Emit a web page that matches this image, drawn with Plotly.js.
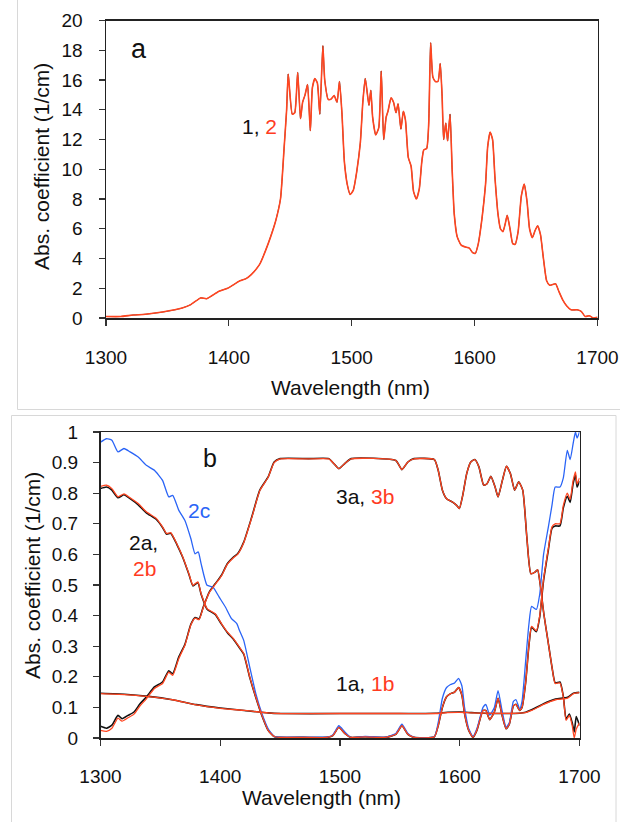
<!DOCTYPE html>
<html><head><meta charset="utf-8">
<script src="https://cdn.plot.ly/plotly-3.0.1.min.js"></script>
<style>html,body{margin:0;padding:0;background:#fff;}#chart{width:637px;height:822px;}</style>
</head><body><div id="chart"></div>
<script>
// ---------- Panel a ----------
const wlA = [1300,1312,1322,1332,1346,1356,1362,1369,1377,1382,1392,1399,1409,1414,1418,1425,1432,1438,1442,1445,1447,1448.3,1451.6,1453.6,1456,1458.3,1460,1462,1464,1466.3,1468,1470,1472,1474,1476.5,1478,1480.8,1483,1485.7,1488,1490,1492,1494,1496.3,1498.7,1501.3,1504,1507,1509,1511,1514,1515.5,1517,1519.5,1522,1524,1526,1528,1529.5,1532,1534,1536,1537.7,1540,1542,1543.7,1546,1548.3,1550.3,1552.6,1555,1557,1558.6,1561,1562.6,1564.2,1566,1568,1570.2,1572,1573.5,1574.8,1576.5,1578,1580,1581.7,1583.4,1585.7,1589,1593.3,1595.7,1598.3,1600.6,1603,1606,1608.9,1610.6,1612.6,1614.6,1616.5,1619,1621,1623,1624.8,1626.5,1628.8,1631,1633,1635.4,1638,1640.4,1642.7,1644.7,1647,1649.3,1651.3,1653.6,1656,1658.6,1661,1663.5,1665.9,1668.5,1671.8,1675,1678.4,1683.4,1686.7,1690,1693.3,1696.6,1700];
const absA_2 = [0.1,0.1,0.2,0.25,0.4,0.55,0.67,0.9,1.35,1.3,1.8,2.0,2.5,2.65,2.9,3.6,5.0,6.5,8.0,11.5,14,16.4,13.7,13.8,16.5,13.4,14.5,15.0,15.7,12.6,15.5,16.1,15.8,13.7,18.3,16,14.7,14.7,14.95,14.5,15.9,13.8,10.5,9,8.3,8.6,9.8,11.8,14.5,16.1,14.3,15.3,13.5,12.3,12.8,16.6,12,13.5,13.9,14.8,14.5,13.8,14.4,12.7,13.9,13.3,10.8,10.2,8.5,8.0,8.7,10.5,11.3,11.4,13,18.5,16.2,15.9,15.9,17.1,15,12,13.1,11.9,13.7,10,7,5.5,4.9,4.75,4.7,4.4,4.35,5.0,6.7,9,11.5,12.5,12.0,9.5,7.0,6.0,5.8,6.3,6.9,6.0,5.0,4.95,5.8,8.2,9.0,7.8,6.0,5.4,5.9,6.2,5.6,4.0,2.5,2.2,2.25,2.3,1.8,1.2,0.8,0.55,0.55,0.45,0.1,0.15,0.0,0.05];
const absA_1 = absA_2; // curve 1 coincides with curve 2 in the figure

// ---------- Panel b ----------
const wl1 = [1300,1320,1340,1360,1380,1400,1420,1440,1450,1500,1550,1580,1590,1600,1610,1620,1650,1655,1660,1670,1680,1690,1695,1700];
const abs1a = [0.146,0.143,0.136,0.125,0.109,0.098,0.09,0.082,0.08,0.08,0.08,0.081,0.084,0.085,0.083,0.081,0.081,0.084,0.092,0.112,0.127,0.133,0.146,0.149];
const abs1b = [0.145,0.142,0.135,0.125,0.108,0.097,0.09,0.082,0.08,0.08,0.08,0.08,0.083,0.084,0.082,0.081,0.081,0.083,0.09,0.11,0.125,0.13,0.145,0.148];

const wl2 = [1300,1305,1309.5,1314.6,1319.6,1324.7,1331.5,1338.3,1346.7,1351.8,1355.2,1358.6,1363.7,1368.8,1373.8,1377.2,1381.3,1384,1389,1395.8,1401,1406,1411,1416,1419.6,1424.6,1429.7,1434.8,1440,1445,1450,1470,1489,1494,1499,1504,1509,1521,1538,1546.6,1551.7,1556.7,1561.8,1578.8,1582,1585.5,1589,1592.3,1595.7,1599,1601.8,1604,1607.5,1611,1614.3,1619.4,1621.8,1625,1628.9,1632,1635.3,1638.7,1641.4,1644.8,1647,1650,1652,1655,1657.7,1660,1664,1666.8,1670,1674,1677,1679.7,1683.7,1686.5,1689.8,1692.2,1694.6,1696.6,1698,1700];
const abs2a = [0.815,0.82,0.81,0.785,0.795,0.782,0.762,0.736,0.714,0.688,0.666,0.669,0.633,0.589,0.535,0.497,0.508,0.47,0.421,0.404,0.372,0.344,0.323,0.295,0.274,0.198,0.132,0.073,0.025,0.005,0.002,0.002,0.002,0.008,0.035,0.015,0.002,0.004,0.002,0.012,0.04,0.012,0.002,0.004,0.04,0.1,0.135,0.145,0.15,0.165,0.14,0.08,0.025,0.002,0.025,0.09,0.09,0.06,0.085,0.13,0.075,0.03,0.045,0.105,0.11,0.09,0.1,0.18,0.3,0.362,0.347,0.396,0.515,0.615,0.685,0.693,0.693,0.752,0.79,0.77,0.83,0.86,0.82,0.84];
const abs2b = [0.822,0.826,0.815,0.788,0.798,0.785,0.766,0.739,0.717,0.69,0.668,0.671,0.635,0.591,0.537,0.499,0.51,0.472,0.423,0.406,0.374,0.346,0.325,0.297,0.276,0.2,0.134,0.074,0.025,0.005,0.002,0.002,0.002,0.008,0.035,0.015,0.002,0.004,0.002,0.012,0.04,0.012,0.002,0.004,0.04,0.1,0.135,0.145,0.15,0.165,0.14,0.08,0.025,0.002,0.025,0.09,0.09,0.06,0.085,0.13,0.075,0.03,0.045,0.105,0.11,0.09,0.1,0.18,0.3,0.365,0.35,0.4,0.52,0.62,0.69,0.7,0.7,0.76,0.8,0.78,0.84,0.87,0.83,0.85];

const wl2c = [1300,1305,1309.5,1314.6,1319.6,1324.7,1331.5,1338.3,1345,1351.8,1357,1360.3,1365.4,1370.5,1375.5,1379,1381.6,1384,1389,1394,1399,1404.3,1409.4,1413.8,1416,1419.6,1424.6,1429.7,1434.8,1440,1445,1450,1470,1489,1494,1499,1504,1509,1521,1538,1546.6,1551.7,1556.7,1561.8,1578.8,1582,1585.5,1589,1592.3,1595.7,1599,1601.8,1604,1607.5,1611,1614.3,1619.4,1621.8,1625,1628.9,1632,1635.3,1638.7,1641.4,1644.8,1647,1650,1652,1655,1657.7,1660,1664,1666.8,1670,1674,1677,1679.7,1683.7,1686.5,1689.8,1692.2,1694.6,1696.6,1698,1700];
const abs2c = [0.967,0.978,0.973,0.935,0.946,0.935,0.918,0.891,0.875,0.842,0.788,0.793,0.744,0.711,0.651,0.602,0.608,0.57,0.499,0.493,0.461,0.428,0.39,0.374,0.352,0.319,0.232,0.145,0.08,0.03,0.005,0.003,0.003,0.003,0.01,0.04,0.02,0.002,0.005,0.003,0.015,0.045,0.015,0.002,0.005,0.05,0.13,0.165,0.175,0.18,0.195,0.17,0.1,0.03,0.005,0.03,0.1,0.11,0.075,0.1,0.155,0.09,0.035,0.05,0.12,0.125,0.095,0.12,0.25,0.37,0.43,0.42,0.47,0.6,0.69,0.76,0.82,0.82,0.85,0.94,0.91,0.96,1.0,0.98,1.0];

const wl3 = [1300,1305,1309.5,1314.6,1318,1323,1328,1333,1338.3,1345,1351.8,1357,1360.3,1365.4,1370.5,1375.5,1379,1382.3,1385.7,1390.8,1395.8,1401,1406,1411,1414.5,1419.6,1426.3,1433,1440,1445,1450,1473.8,1490.7,1494.8,1499,1504,1509.3,1546.6,1551.7,1556.7,1561.8,1578.8,1582,1585.5,1589,1594,1597.4,1599.7,1602.5,1605.8,1609.2,1612.6,1616,1620,1622.8,1626,1629.5,1632,1635.6,1639,1642.3,1645.8,1649.2,1652.6,1656,1659.4,1662.8,1665,1667.5,1670.2,1673.6,1677,1679.7,1683.7,1686.5,1688.8,1691.5,1693.9,1695.6,1697.3,1700];
const abs3a = [0.038,0.032,0.042,0.074,0.063,0.074,0.085,0.112,0.134,0.167,0.183,0.22,0.21,0.265,0.306,0.372,0.394,0.389,0.427,0.477,0.504,0.532,0.57,0.591,0.602,0.64,0.722,0.81,0.853,0.902,0.913,0.913,0.913,0.897,0.88,0.897,0.913,0.907,0.877,0.902,0.913,0.91,0.875,0.81,0.782,0.771,0.76,0.75,0.793,0.864,0.902,0.91,0.886,0.826,0.831,0.855,0.82,0.788,0.842,0.888,0.864,0.81,0.837,0.81,0.657,0.537,0.542,0.55,0.493,0.406,0.319,0.232,0.18,0.183,0.136,0.062,0.078,0.05,0.02,0.07,0.04];
const abs3b = [0.025,0.022,0.032,0.065,0.055,0.066,0.078,0.105,0.128,0.162,0.178,0.215,0.205,0.26,0.303,0.37,0.392,0.387,0.425,0.475,0.502,0.53,0.568,0.589,0.6,0.638,0.72,0.808,0.852,0.9,0.912,0.912,0.912,0.897,0.88,0.897,0.912,0.907,0.877,0.902,0.912,0.91,0.875,0.81,0.782,0.771,0.76,0.75,0.793,0.864,0.902,0.91,0.886,0.826,0.831,0.855,0.82,0.788,0.842,0.888,0.864,0.81,0.837,0.81,0.657,0.537,0.542,0.55,0.493,0.406,0.319,0.232,0.178,0.18,0.134,0.058,0.074,0.041,0.0,0.03,0.05];

const xTicks = [1300,1400,1500,1600,1700];
const yTicksA = [0,2,4,6,8,10,12,14,16,18,20];
const yTicksB = [0,0.1,0.2,0.3,0.4,0.5,0.6,0.7,0.8,0.9,1];
const yTickTextB = ['0','0.1','0.2','0.3','0.4','0.5','0.6','0.7','0.8','0.9','1'];

const RED = '#FF4520', BLUE = '#2A64F6', BLACK = '#111111';
const W = 637, H = 822;
const px = x => x / W, py = y => 1 - y / H;

function line(x, y, color, xa, ya, w) {
  return {x: x, y: y, type: 'scatter', mode: 'lines', xaxis: xa, yaxis: ya,
          line: {color: color, width: w, shape: 'spline', smoothing: 0.5},
          hoverinfo: 'skip', showlegend: false};
}

const data = [
  line(wlA, absA_1, BLACK, 'x', 'y', 0.8),
  line(wlA, absA_2, RED, 'x', 'y', 1.6),
  line(wl1, abs1a, BLACK, 'x2', 'y2', 1.6),
  line(wl2, abs2a, BLACK, 'x2', 'y2', 1.6),
  line(wl3, abs3a, BLACK, 'x2', 'y2', 1.6),
  line(wl2c, abs2c, BLUE, 'x2', 'y2', 1.3),
  line(wl1, abs1b, RED, 'x2', 'y2', 1.3),
  line(wl2, abs2b, RED, 'x2', 'y2', 1.3),
  line(wl3, abs3b, RED, 'x2', 'y2', 1.3)
];

const tickFont = {family: 'Liberation Sans, Arial, sans-serif', size: 19, color: '#111'};
const axBase = {showgrid: false, zeroline: false, showline: true, linecolor: '#222', linewidth: 1.5,
  mirror: true, ticks: 'outside', ticklen: 6, tickwidth: 1.2, tickcolor: '#333', tickfont: tickFont, fixedrange: true};

function ann(text, x, y, size, color, angle) {
  const a = {text: text, xref: 'paper', yref: 'paper', x: px(x), y: py(y), showarrow: false,
    xanchor: 'center', yanchor: 'middle', font: {size: size, color: color || '#111'}};
  if (angle) a.textangle = angle;
  return a;
}

const layout = {
  width: W, height: H, margin: {l: 0, r: 0, t: 0, b: 0},
  paper_bgcolor: '#fff', plot_bgcolor: '#fff', showlegend: false,
  font: {family: 'Liberation Sans, Arial, sans-serif', color: '#111'},
  xaxis: Object.assign({}, axBase, {domain: [px(106), px(597.5)], range: [1300, 1700], tickvals: xTicks, anchor: 'y', ticklabelstandoff: 16}),
  yaxis: Object.assign({}, axBase, {domain: [py(318), py(20.5)], range: [0, 20], tickvals: yTicksA, anchor: 'x', ticklabelstandoff: 12}),
  xaxis2: Object.assign({}, axBase, {domain: [px(100.5), px(579.5)], range: [1300, 1700], tickvals: xTicks, anchor: 'y2', ticklabelstandoff: 15}),
  yaxis2: Object.assign({}, axBase, {domain: [py(738), py(432)], range: [0, 1], tickvals: yTicksB, ticktext: yTickTextB, anchor: 'x2', ticklabelstandoff: 11}),
  shapes: [
    {type: 'line', xref: 'paper', yref: 'paper', x0: px(17.5), x1: px(17.5), y0: py(0), y1: py(409.5), line: {color: '#d8d8d8', width: 1}},
    {type: 'line', xref: 'paper', yref: 'paper', x0: px(17.5), x1: px(620), y0: py(409.5), y1: py(409.5), line: {color: '#d8d8d8', width: 1}},
    {type: 'rect', xref: 'paper', yref: 'paper', x0: px(11.5), x1: px(616), y0: py(415.5), y1: py(823), line: {color: '#d8d8d8', width: 1}}
  ],
  annotations: [
    ann('Wavelength (nm)', 351, 387, 21),
    ann('Abs. coefficient (1/cm)', 41, 167, 21, null, -90),
    ann('a', 139, 49, 27),
    ann('1, <span style="color:#FF3B1F">2</span>', 259, 126, 21),
    ann('Wavelength (nm)', 321, 797, 21),
    ann('Abs. coefficient (1/cm)', 32, 576, 21, null, -90),
    ann('b', 210, 458, 25),
    ann('2c', 198.5, 510, 21, '#2A64F6'),
    ann('2a,', 143, 542, 21),
    ann('2b', 144, 568, 21, '#FF3B1F'),
    ann('3a, <span style="color:#FF3B1F">3b</span>', 365, 496, 21),
    ann('1a, <span style="color:#FF3B1F">1b</span>', 365, 683, 21)
  ]
};

Plotly.newPlot('chart', data, layout, {staticPlot: true, displayModeBar: false});
</script></body></html>
